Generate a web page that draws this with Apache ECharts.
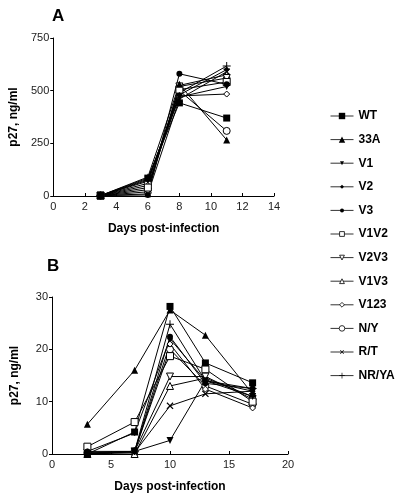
<!DOCTYPE html>
<html>
<head>
<meta charset="utf-8">
<script src="https://cdn.jsdelivr.net/npm/echarts@6/dist/echarts.min.js"></script>
<style>html,body{margin:0;padding:0;background:#fff;}#c{width:404px;height:499px;}</style>
</head>
<body>
<div id="c"></div>
<script>
const names = ['WT','33A','V1','V2','V3','V1V2','V2V3','V1V3','V123','N/Y','R/T','NR/YA'];
const daysA = [3, 6, 8, 11];
const valuesA = {
  'WT':    [2, 85, 442, 370],
  '33A':   [2, 90, 530, 266],
  'V1':    [2, 80, 470, 520],
  'V2':    [2, 75, 480, 600],
  'V3':    [2, 5, 580, 530],
  'V1V2':  [2, 40, 505, 541],
  'V2V3':  [2, 20, 520, 560],
  'V1V3':  [2, 30, 525, 575],
  'V123':  [2, 50, 475, 484],
  'N/Y':   [2, 60, 500, 309],
  'R/T':   [2, 10, 460, 590],
  'NR/YA': [2, 70, 490, 617]
};
const daysB = [3, 7, 10, 13, 17];
const valuesB = {
  'WT':    [0, 4.2, 28.2, 17.4, 13.6],
  '33A':   [5.7, 16, 27.5, 22.7, 11.5],
  'V1':    [0, 0.5, 2.6, 14, 11],
  'V2':    [0.5, 4, 22, 14, 12],
  'V3':    [0.5, 0.5, 22.4, 13.5, 12.5],
  'V1V2':  [1.4, 6.1, 18.7, 16.2, 10],
  'V2V3':  [0.2, 0.5, 14.8, 14.8, 10.5],
  'V1V3':  [0, 0, 13, 14.5, 11],
  'V123':  [0, 0.5, 21, 12.4, 8.8],
  'N/Y':   [0.3, 0.5, 20, 13, 9.5],
  'R/T':   [0, 0.3, 9.2, 11.5, 12],
  'NR/YA': [0, 0.5, 24.8, 14, 12.5]
};
const ticksA_y = [0, 250, 500, 750];
const ticksA_x = [0, 2, 4, 6, 8, 10, 12, 14];
const ticksB_y = [0, 10, 20, 30];
const ticksB_x = [0, 5, 10, 15, 20];

const DOWN = 'path://M0,0L10,0L5,9Z';
const XS = 'path://M0,1.2L1.2,0L5,3.8L8.8,0L10,1.2L6.2,5L10,8.8L8.8,10L5,6.2L1.2,10L0,8.8L3.8,5Z';
const PLUS = 'path://M4.4,0H5.6V4.4H10V5.6H5.6V10H4.4V5.6H0V4.4H4.4Z';
const styles = {
  'WT':    {symbol:'rect', size:7, fill:true, leg:8},
  '33A':   {symbol:'triangle', size:7, fill:true, leg:8},
  'V1':    {symbol:DOWN, size:7, fill:true, leg:5},
  'V2':    {symbol:'diamond', size:6, fill:true, leg:5},
  'V3':    {symbol:'circle', size:6, fill:true, leg:5},
  'V1V2':  {symbol:'rect', size:7, fill:false, leg:6},
  'V2V3':  {symbol:DOWN, size:7, fill:false, leg:6},
  'V1V3':  {symbol:'triangle', size:7, fill:false, leg:6},
  'V123':  {symbol:'diamond', size:6, fill:false, leg:6},
  'N/Y':   {symbol:'circle', size:7, fill:false, leg:7},
  'R/T':   {symbol:XS, size:7, fill:true, leg:5},
  'NR/YA': {symbol:PLUS, size:8, fill:true, leg:7}
};

const font = 'Liberation Sans, Arial, Helvetica, sans-serif';
function mkSeries(name, days, vals, idx) {
  const s = styles[name];
  return {
    type: 'line', name: name, xAxisIndex: idx, yAxisIndex: idx,
    data: days.map((d, i) => [d, vals[i]]),
    symbol: s.symbol, symbolSize: s.size, showAllSymbol: true,
    lineStyle: {color: '#000', width: 1},
    itemStyle: {color: s.fill ? '#000' : '#fff', borderColor: '#000', borderWidth: s.fill ? 0 : 1},
    emphasis: {disabled: true},
    animation: false
  };
}
const series = [];
names.slice().reverse().forEach(n => series.push(mkSeries(n, daysA, valuesA[n], 0)));
names.slice().reverse().forEach(n => series.push(mkSeries(n, daysB, valuesB[n], 1)));

const axisCommon = {
  axisLine: {lineStyle: {color: '#000', width: 1}},
  splitLine: {show: false},
  axisLabel: {color: '#222', fontSize: 11, fontFamily: font},
  nameTextStyle: {color: '#000', fontSize: 12, fontWeight: 'bold', fontFamily: font}
};
function xAx(grid, ticks, interval) {
  return Object.assign({}, axisCommon, {
    type: 'value', gridIndex: grid, min: ticks[0], max: ticks[ticks.length-1], interval: interval,
    axisTick: {show: true, inside: true, length: 3, lineStyle: {color: '#000'}},
    axisLabel: Object.assign({}, axisCommon.axisLabel, {margin: 5}),
    name: 'Days post-infection', nameLocation: 'middle', nameGap: 27
  });
}
function yAx(grid, ticks, interval) {
  return Object.assign({}, axisCommon, {
    type: 'value', gridIndex: grid, min: ticks[0], max: ticks[ticks.length-1], interval: interval,
    axisTick: {show: true, inside: false, length: 3, lineStyle: {color: '#000'}},
    axisLabel: Object.assign({}, axisCommon.axisLabel, {margin: 4}),
    name: 'p27, ng/ml', nameLocation: 'middle', nameGap: 31
  });
}

const legends = names.map((n, i) => ({
  data: [n], orient: 'vertical', left: 330, top: 116 + i * 23.6 - 7, padding: 0,
  itemWidth: 23, itemHeight: styles[n].leg, itemGap: 0,
  lineStyle: {width: 1, color: '#333'},
  itemStyle: {borderWidth: styles[n].fill ? 0 : 0.8},
  textStyle: {fontSize: 12, fontWeight: 'bold', color: '#000', fontFamily: font, lineHeight: 14},
  selectedMode: false
}));

const chart = echarts.init(document.getElementById('c'), null, {renderer: 'canvas'});
chart.setOption({
  backgroundColor: '#fff',
  animation: false,
  title: [
    {text: 'A', left: 47, top: 3, textStyle: {fontSize: 17, fontWeight: 'bold', color: '#000', fontFamily: font}},
    {text: 'B', left: 42, top: 253, textStyle: {fontSize: 17, fontWeight: 'bold', color: '#000', fontFamily: font}}
  ],
  grid: [
    {left: 52, top: 38, width: 222, height: 158},
    {left: 52, top: 297, width: 236, height: 157}
  ],
  xAxis: [xAx(0, ticksA_x, 2), xAx(1, ticksB_x, 5)],
  yAxis: [yAx(0, ticksA_y, 250), yAx(1, ticksB_y, 10)],
  legend: legends,
  series: series
});
</script>
</body>
</html>
